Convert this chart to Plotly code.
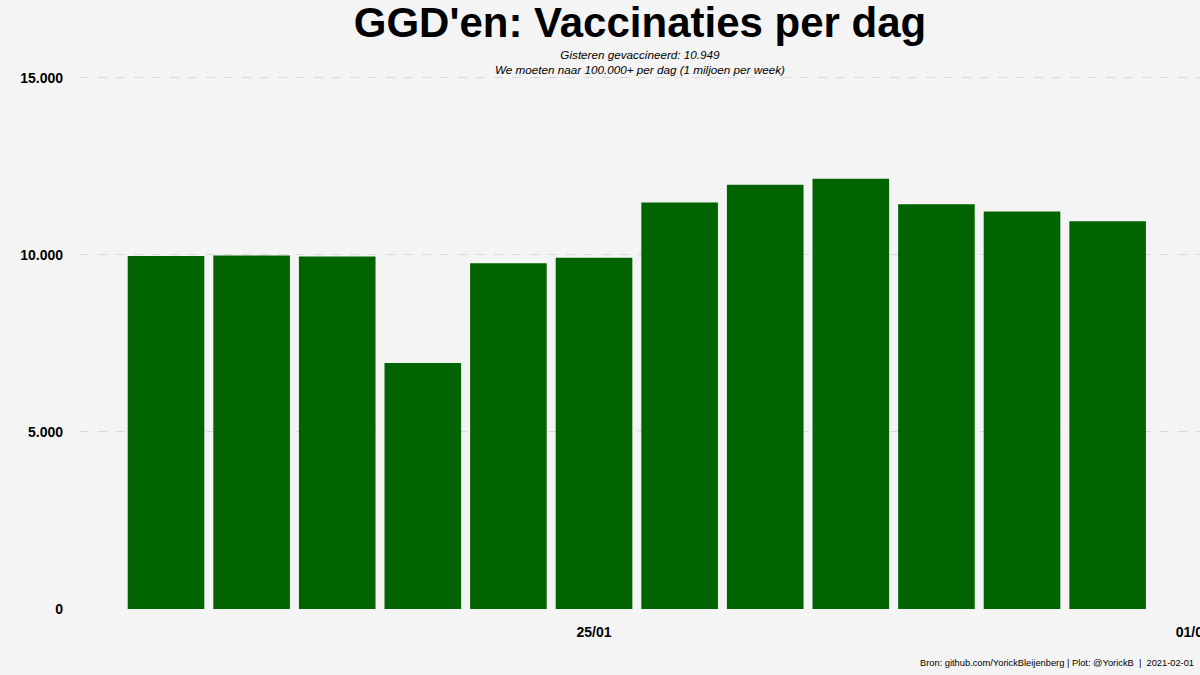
import plotly.graph_objects as go

dates = ["2021-01-20", "2021-01-21", "2021-01-22", "2021-01-23", "2021-01-24", "2021-01-25",
         "2021-01-26", "2021-01-27", "2021-01-28", "2021-01-29", "2021-01-30", "2021-01-31"]
vaccinations = [9970, 9985, 9950, 6945, 9760, 9920, 11475, 11980, 12150, 11430, 11225, 10949]

y_ticks = [0, 5000, 10000, 15000]
x_ticks = ["2021-01-25", "2021-02-01"]
x_ticktext = ["25/01", "01/02"]

title_text = "GGD'en: Vaccinaties per dag"
subtitle_text = "Gisteren gevaccineerd: 10.949<br>We moeten naar 100.000+ per dag (1 miljoen per week)"
caption_text = "Bron: github.com/YorickBleijenberg | Plot: @YorickB  |  2021-02-01"

BG = "#f4f4f4"
FONT = "Liberation Sans"

fig = go.Figure()
fig.add_trace(go.Bar(
    x=dates, y=vaccinations,
    width=0.895 * 86400000,
    marker=dict(color="#006400", line=dict(width=0)),
    hoverinfo="x+y",
))

fig.update_layout(
    width=1200, height=675,
    paper_bgcolor=BG, plot_bgcolor=BG,
    margin=dict(l=80, r=0, t=76, b=66, autoexpand=False),
    separators=",.",
    showlegend=False,
    font=dict(family=FONT, color="black"),
    title=dict(
        text="<b>" + title_text + "</b>",
        font=dict(family=FONT, size=42, color="black"),
        x=(80 + 1200) / 2 / 1200, xanchor="center",
        y=1 - 22 / 675, yanchor="middle",
    ),
    xaxis=dict(
        type="date",
        range=["2021-01-18 23:53", "2021-02-01 01:54"],
        tickvals=x_ticks, ticktext=x_ticktext,
        tickfont=dict(family=FONT, size=14, color="black", weight="bold"),
        showgrid=False, zeroline=False, showline=False, ticks="",
        ticklabelstandoff=13, ticklabeloverflow="allow", automargin=False,
    ),
    yaxis=dict(
        range=[0, 15050],
        tickvals=y_ticks, tickformat=",d",
        tickfont=dict(family=FONT, size=14, color="black", weight="bold"),
        showgrid=True, gridcolor="#d9d9d9", griddash="dash", gridwidth=1,
        zeroline=True, zerolinecolor=BG, showline=False, ticks="",
        ticklabelstandoff=16, automargin=False,
    ),
    annotations=[
        dict(text="<i>" + subtitle_text + "</i>", xref="paper", yref="paper",
             x=0.5, y=1 + (76 - 62) / 533, xanchor="center", yanchor="middle",
             showarrow=False, align="center",
             font=dict(family=FONT, size=11.7, color="black")),
        dict(text=caption_text, xref="paper", yref="paper",
             x=1 - 4 / 1120, y=-(663 - 609) / 533, xanchor="right", yanchor="middle",
             showarrow=False, font=dict(family=FONT, size=9.3, color="black")),
    ],
)

fig.write_html("out.html", config={"displayModeBar": False},
               post_script="document.body.style.margin='0';")
